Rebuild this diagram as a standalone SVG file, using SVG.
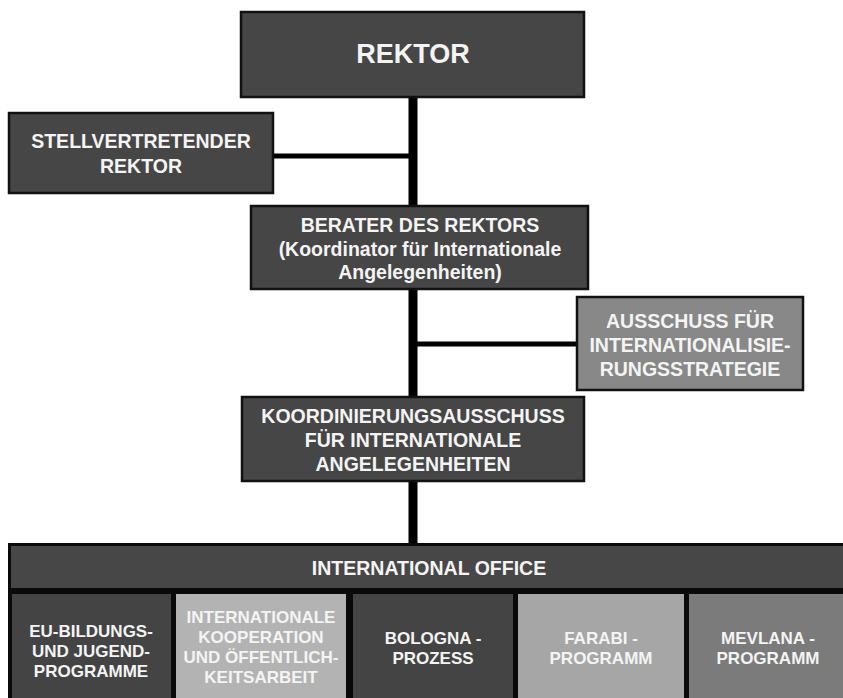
<svg xmlns="http://www.w3.org/2000/svg" width="843" height="698" viewBox="0 0 843 698">
<style>
.box{fill:#464646;stroke:#111;stroke-width:2.5}
.t{font-family:"Liberation Sans",Arial,sans-serif;font-weight:bold;fill:#f4f4f4;text-anchor:middle}
.m{font-size:19.5px}
.s{font-size:17px}
.conn{stroke:#000;fill:none}
</style>
<rect width="843" height="698" fill="#fff"/>
<g id="connectors">
<line class="conn" x1="413" y1="96" x2="413" y2="545" stroke-width="9"/>
<line class="conn" x1="272" y1="156" x2="413" y2="156" stroke-width="5"/>
<line class="conn" x1="413" y1="344" x2="578" y2="344" stroke-width="5"/>
</g>
<g id="rektor">
<rect class="box" x="241" y="12" width="343" height="85"/>
<text class="t" x="413" y="63" font-size="27">REKTOR</text>
</g>
<g id="stellvertretender">
<rect class="box" x="9" y="113" width="264" height="80"/>
<text class="t m" x="141" y="148">STELLVERTRETENDER</text>
<text class="t m" x="141" y="173">REKTOR</text>
</g>
<g id="berater">
<rect class="box" x="251" y="206" width="337" height="83"/>
<text class="t m" x="420" y="232">BERATER DES REKTORS</text>
<text class="t m" x="420" y="256">(Koordinator für Internationale</text>
<text class="t m" x="420" y="279">Angelegenheiten)</text>
</g>
<g id="ausschuss">
<rect class="box" x="577" y="297" width="226" height="93" style="fill:#888"/>
<text class="t m" x="690" y="328">AUSSCHUSS FÜR</text>
<text class="t m" x="690" y="352">INTERNATIONALISIE-</text>
<text class="t m" x="690" y="376">RUNGSSTRATEGIE</text>
</g>
<g id="koordinierung">
<rect class="box" x="242" y="397" width="342" height="84"/>
<text class="t m" x="413" y="423">KOORDINIERUNGSAUSSCHUSS</text>
<text class="t m" x="413" y="447">FÜR INTERNATIONALE</text>
<text class="t m" x="413" y="471">ANGELEGENHEITEN</text>
</g>
<g id="international-office">
<rect x="8" y="543" width="840" height="160" fill="#0a0a0a"/>
<rect x="11" y="546" width="840" height="42" fill="#474747"/>
<text class="t m" x="429" y="575">INTERNATIONAL OFFICE</text>
</g>
<g id="eu-bildung">
<rect x="12" y="594" width="159" height="110" fill="#444"/>
<text class="t s" x="91" y="637">EU-BILDUNGS-</text>
<text class="t s" x="91" y="657">UND JUGEND-</text>
<text class="t s" x="91" y="677">PROGRAMME</text>
</g>
<g id="kooperation">
<rect x="176" y="594" width="170" height="110" fill="#b3b3b3"/>
<text class="t s" x="261" y="623">INTERNATIONALE</text>
<text class="t s" x="261" y="643">KOOPERATION</text>
<text class="t s" x="261" y="663">UND ÖFFENTLICH-</text>
<text class="t s" x="261" y="683">KEITSARBEIT</text>
</g>
<g id="bologna">
<rect x="353" y="594" width="160" height="110" fill="#444"/>
<text class="t s" x="433" y="644">BOLOGNA -</text>
<text class="t s" x="433" y="664">PROZESS</text>
</g>
<g id="farabi">
<rect x="518" y="594" width="166" height="110" fill="#a6a6a6"/>
<text class="t s" x="601" y="644">FARABI -</text>
<text class="t s" x="601" y="664">PROGRAMM</text>
</g>
<g id="mevlana">
<rect x="689" y="594" width="160" height="110" fill="#7b7b7b"/>
<text class="t s" x="768" y="644">MEVLANA -</text>
<text class="t s" x="768" y="664">PROGRAMM</text>
</g>
</svg>
